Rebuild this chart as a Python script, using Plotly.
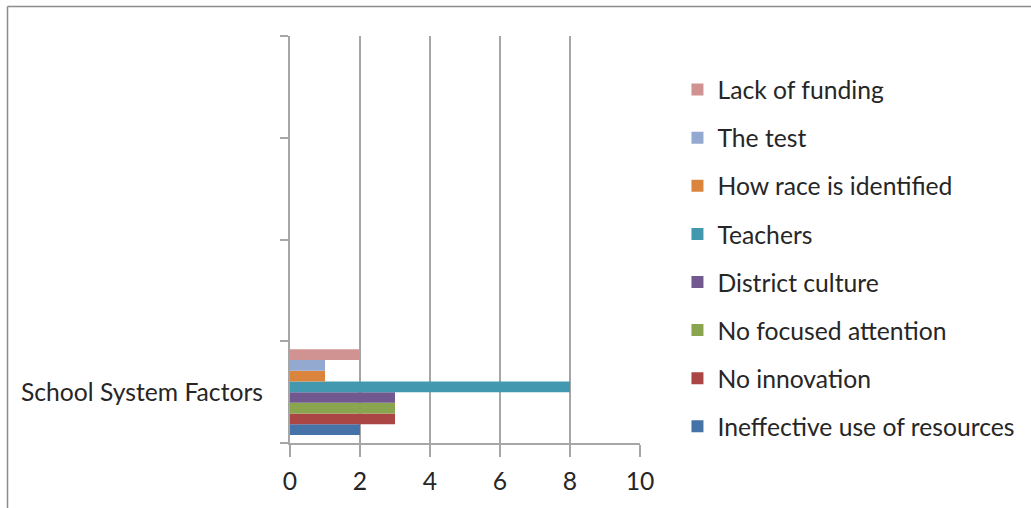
import plotly.graph_objects as go

category = "School System Factors"
series = [
    "Ineffective use of resources",
    "No innovation",
    "No focused attention",
    "District culture",
    "Teachers",
    "How race is identified",
    "The test",
    "Lack of funding",
]
values = [2, 3, 3, 3, 8, 1, 1, 2]
colors = ["#4572A7", "#AA4643", "#89A54E", "#71588F",
          "#4198AF", "#DB843D", "#93A9CF", "#D19392"]
x_ticks = [0, 2, 4, 6, 8, 10]

GRID = "#A6A6A6"
TEXT = "#262626"
FONT = "Lato"
FS = 24.7

fig = go.Figure()
for i, (name, v, c) in enumerate(zip(series, values, colors)):
    fig.add_trace(go.Bar(
        x=[v], y=[0.5], name=name, orientation="h",
        marker=dict(color=c, line=dict(width=0)),
        legendgroup=name, legendrank=1000 - 10 * i,
    ))

fig.update_layout(
    width=1031, height=508,
    margin=dict(l=290, r=391, t=36, b=65),
    paper_bgcolor="white", plot_bgcolor="white",
    barmode="group", bargap=0.155, bargroupgap=0,
    showlegend=True,
    legend=dict(
        traceorder="grouped", x=1.107, xanchor="left",
        y=(443 - 67) / 407, yanchor="top",
        font=dict(family=FONT, size=FS, color=TEXT),
        tracegroupgap=13, itemwidth=30,
    ),
    xaxis=dict(
        range=[0, 10], tickvals=x_ticks, ticktext=[str(t) for t in x_ticks],
        showgrid=True, gridcolor=GRID, gridwidth=2,
        showline=True, linecolor=GRID, linewidth=2,
        ticks="outside", ticklen=12, tickcolor=GRID, tickwidth=2,
        tickfont=dict(family=FONT, size=FS, color=TEXT),
        ticklabelstandoff=3,
        zeroline=False, fixedrange=True,
    ),
    yaxis=dict(
        range=[0, 4], tickvals=[0.5], ticktext=[category],
        ticks="", showgrid=False, zeroline=False,
        showline=True, linecolor=GRID, linewidth=2,
        tickfont=dict(family=FONT, size=FS, color=TEXT),
        ticklabelstandoff=20,
        minor=dict(tick0=0, dtick=1, ticks="outside", ticklen=8,
                   tickcolor=GRID, tickwidth=2, showgrid=False),
        fixedrange=True,
    ),
)

# outer chart frame (top and left edges)
fig.add_shape(type="line", xref="paper", yref="paper",
              x0=(7.5 - 290) / 350, x1=(1040 - 290) / 350,
              y0=(443 - 6.5) / 407, y1=(443 - 6.5) / 407,
              line=dict(color="#8C8C8C", width=1.5))
fig.add_shape(type="line", xref="paper", yref="paper",
              x0=(7.5 - 290) / 350, x1=(7.5 - 290) / 350,
              y0=(443 - 6.5) / 407, y1=(443 - 520) / 407,
              line=dict(color="#8C8C8C", width=1.5))

fig.write_html("out.html")
